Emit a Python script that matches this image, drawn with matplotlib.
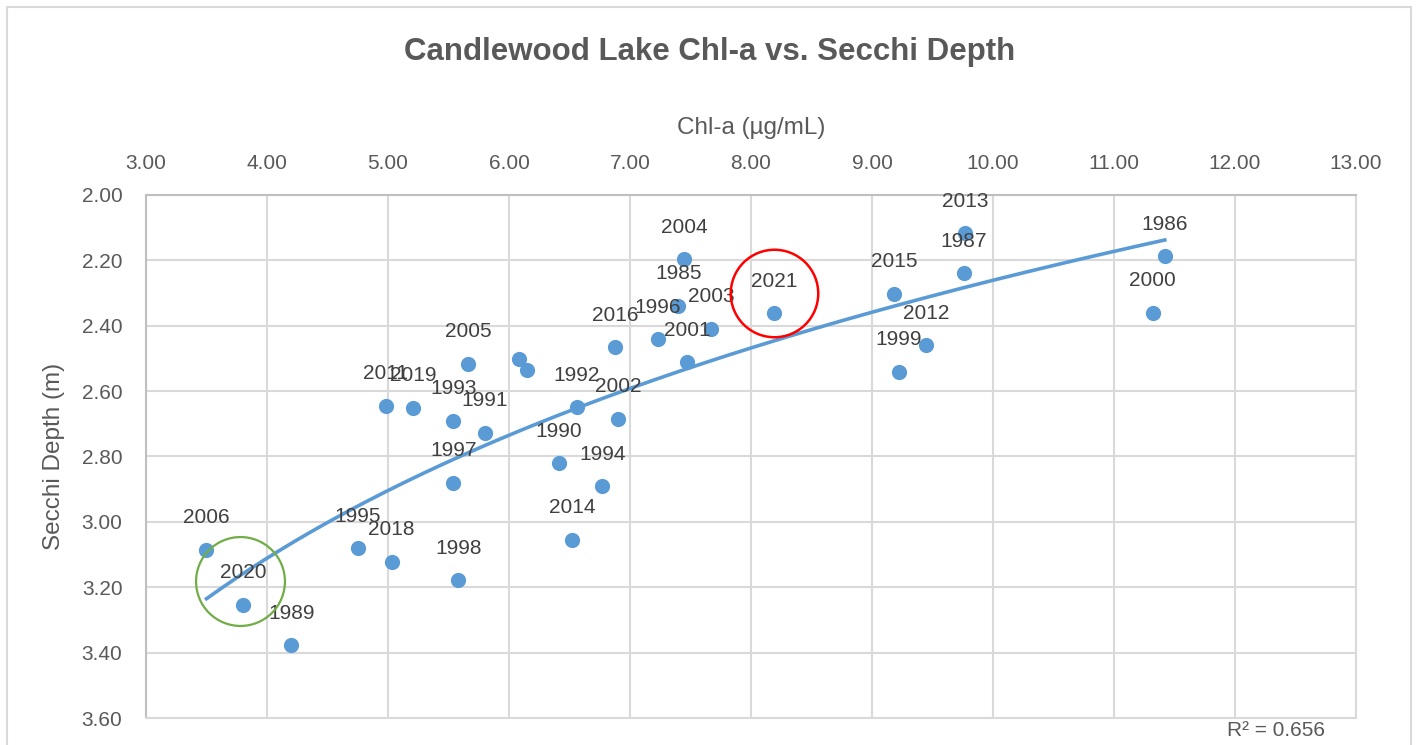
import numpy as np
import matplotlib
matplotlib.use('Agg')
import matplotlib.pyplot as plt
from matplotlib.transforms import offset_copy
from matplotlib.patches import Rectangle

plt.rcParams['font.family'] = ['Liberation Sans', 'DejaVu Sans']

# data (year label, chl-a, secchi depth)
years = ['1985', '1986', '1987', '1989', '1990', '1991', '1992', '1993', '1994', '1995',
         '1996', '1997', '1998', '1999', '2000', '2001', '2002', '2003', '2004', '2005',
         '2006', '2011', '2012', '2013', '2014', '2015', '2016', '2018', '2019', '2020',
         '2021', '', '']
chla = [7.40, 11.42, 9.76, 4.20, 6.41, 5.80, 6.56, 5.54, 6.77, 4.75,
        7.23, 5.54, 5.58, 9.22, 11.32, 7.47, 6.90, 7.67, 7.45, 5.66,
        3.50, 4.98, 9.45, 9.77, 6.52, 9.18, 6.88, 5.03, 5.21, 3.80,
        8.19, 6.08, 6.15]
secchi = [2.339, 2.187, 2.239, 3.378, 2.821, 2.727, 2.649, 2.690, 2.891, 3.080,
          2.441, 2.880, 3.178, 2.541, 2.360, 2.511, 2.685, 2.409, 2.197, 2.517,
          3.085, 2.645, 2.459, 2.117, 3.054, 2.302, 2.466, 3.122, 2.651, 3.253,
          2.361, 2.503, 2.535]
xticks = [3, 4, 5, 6, 7, 8, 9, 10, 11, 12, 13]
yticks = [2.0, 2.2, 2.4, 2.6, 2.8, 3.0, 3.2, 3.4, 3.6]

blue = '#5B9BD5'
txt = '#595959'
grid = '#D9D9D9'

fig = plt.figure(figsize=(14.18, 7.45), dpi=100)
ax = fig.add_axes([146/1418, 1-718/745, (1356-146)/1418, (718-195)/745])

ax.scatter(chla, secchi, s=120, color=blue, zorder=3, linewidths=0)

# logarithmic trendline like excel
x = np.array(chla)
y = np.array(secchi)
b, a = np.polyfit(np.log(x), y, 1)
xs = np.linspace(x.min(), x.max(), 200)
ax.plot(xs, a + b*np.log(xs), color=blue, lw=2.6, zorder=2)

for yr, cx, sy in zip(years, chla, secchi):
    if yr:
        ax.annotate(yr, (cx, sy), xytext=(0, 32), textcoords='offset pixels',
                    ha='center', va='center', fontsize=15, color='#404040', zorder=4)

# highlight circles for 2020 and 2021
i20 = years.index('2020')
i21 = years.index('2021')
tr = offset_copy(ax.transData, fig=fig, x=0, y=20, units='dots')
ax.plot(chla[i21], secchi[i21], 'o', ms=63, mfc='none', mec='#FF0000', mew=1.8,
        transform=tr, zorder=5)
tr = offset_copy(ax.transData, fig=fig, x=-3, y=24, units='dots')
ax.plot(chla[i20], secchi[i20], 'o', ms=64, mfc='none', mec='#70AD47', mew=1.6,
        transform=tr, zorder=5)

ax.set_xlim(3, 13)
ax.set_ylim(3.6, 2.0)
ax.set_xticks(xticks)
ax.set_yticks(yticks)
ax.xaxis.set_major_formatter(lambda v, p: f'{v:.2f}')
ax.yaxis.set_major_formatter(lambda v, p: f'{v:.2f}')
ax.xaxis.tick_top()
ax.xaxis.set_label_position('top')
ax.tick_params(axis='both', length=0, labelsize=15, colors=txt)
ax.tick_params(axis='x', pad=16)
ax.tick_params(axis='y', pad=17)
ax.grid(True, color=grid, lw=1.5)
ax.set_axisbelow(True)
for s in ['right', 'bottom']:
    ax.spines[s].set_color(grid)
    ax.spines[s].set_linewidth(1.5)
for s in ['left', 'top']:
    ax.spines[s].set_color('#BFBFBF')
    ax.spines[s].set_linewidth(1.5)

ax.set_xlabel('Chl-a (µg/mL)', fontsize=17.5, color=txt, labelpad=14)
ax.set_ylabel('Secchi Depth (m)', fontsize=17.5, color=txt, labelpad=12)

fig.text(710/1418, 1-52/745, 'Candlewood Lake Chl-a vs. Secchi Depth', ha='center', va='center',
         fontsize=22.5, fontweight='bold', color=txt)
fig.text(1276/1418, 1-731/745, 'R² = 0.656', ha='center', va='center', fontsize=15, color=txt)

fig.patches.append(Rectangle((7/1418, -0.1), (1411-7)/1418, 1.1-7/745, transform=fig.transFigure,
                             fill=False, ec=grid, lw=1.5))

fig.savefig('out.png', dpi=100)
